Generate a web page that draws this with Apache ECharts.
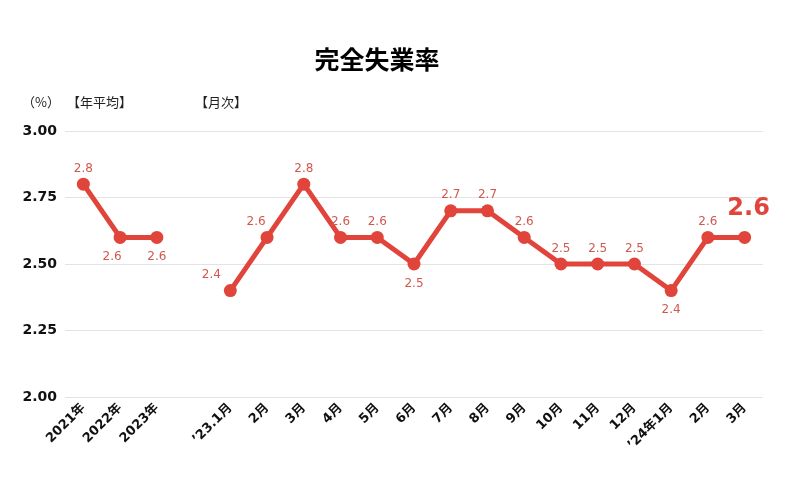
<!DOCTYPE html>
<html><head><meta charset="utf-8">
<script src="https://cdn.jsdelivr.net/npm/echarts@6/dist/echarts.min.js"></script>
<style>html,body{margin:0;padding:0;background:#fff}#c{width:800px;height:484px}</style>
</head><body><div id="c"></div>
<script>
var categories = ['2021年','2022年','2023年','','’23.1月','2月','3月','4月','5月','6月','7月','8月','9月','10月','11月','12月','’24年1月','2月','3月'];
var values = [2.8,2.6,2.6,null,2.4,2.6,2.8,2.6,2.6,2.5,2.7,2.7,2.6,2.5,2.5,2.5,2.4,2.6,2.6];
var yTicks = [2.00,2.25,2.50,2.75,3.00];

var F = '"DejaVu Sans","Noto Sans CJK JP",sans-serif';
var labelCfg = {
  0:{position:'top'},
  1:{position:'bottom',offset:[-8,0]},
  2:{position:'bottom'},
  4:{position:'top',offset:[-19,0]},
  5:{position:'top',offset:[-11,0]},
  9:{position:'bottom'},
  16:{position:'bottom'}
};
var data = values.map(function(v,i){
  if(v===null) return null;
  var lc = labelCfg[i] || {position:'top'};
  var item = {value:v,label:{show:true,position:lc.position,offset:lc.offset||[0,0],distance:lc.position==='top'?3:7}};
  if(i===values.length-1){
    item.label = {show:true,position:'top',offset:[4,-2],fontSize:24,fontWeight:'bold',color:'#e0443a',distance:8};
  }
  return item;
});

var chart = echarts.init(document.getElementById('c'));
chart.setOption({
  animation:false,
  title:{text:'完全失業率',left:372,top:42,textAlign:'center',textStyle:{fontFamily:'"Noto Sans CJK JP",sans-serif',fontSize:25,fontWeight:'bold',color:'#000'}},
  graphic:[
    {type:'text',left:22,top:96,style:{text:'（%）',font:'13px "Noto Sans CJK JP",sans-serif',fill:'#222'}},
    {type:'text',left:67,top:96,style:{text:'【年平均】',font:'13px "Noto Sans CJK JP",sans-serif',fill:'#222'}},
    {type:'text',left:195,top:96,style:{text:'【月次】',font:'13px "Noto Sans CJK JP",sans-serif',fill:'#222'}}
  ],
  grid:{left:65,right:37,top:131,bottom:87},
  xAxis:{type:'category',data:categories,boundaryGap:true,
    axisLine:{show:false},axisTick:{show:false},
    axisLabel:{rotate:45,interval:0,fontFamily:F,fontSize:13,fontWeight:'bold',color:'#111',margin:9}},
  yAxis:{type:'value',min:2,max:3,interval:0.25,
    axisLine:{show:false},axisTick:{show:false},
    splitLine:{lineStyle:{color:'#e3e3e3',width:1}},
    axisLabel:{formatter:function(v){return v.toFixed(2);},fontFamily:F,fontSize:14,fontWeight:'bold',color:'#111',margin:8}},
  series:[{type:'line',data:data,connectNulls:false,
    lineStyle:{color:'#e0443a',width:5},
    itemStyle:{color:'#e0443a'},
    symbol:'circle',symbolSize:13,
    label:{show:true,fontFamily:F,fontSize:12,color:'#d0584e'}}]
});
</script></body></html>
